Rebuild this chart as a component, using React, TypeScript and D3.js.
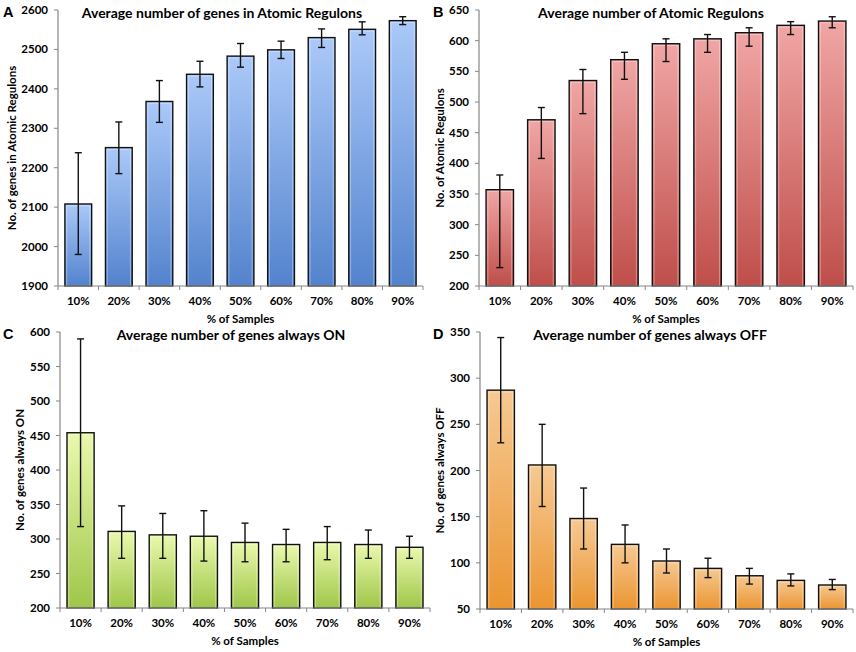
import * as d3 from "d3";

const categories = ["10%", "20%", "30%", "40%", "50%", "60%", "70%", "80%", "90%"];

// A: genes in atomic regulons
const genesMean = [2108, 2251, 2368, 2437, 2483, 2499, 2530, 2551, 2573];
const genesHigh = [2238, 2316, 2421, 2470, 2515, 2521, 2552, 2570, 2583];
const genesLow = [1980, 2185, 2315, 2405, 2455, 2477, 2505, 2537, 2563];
const genesTicks = [1900, 2000, 2100, 2200, 2300, 2400, 2500, 2600];

// B: atomic regulons
const regulonsMean = [357, 471, 535, 569, 595, 603, 613, 625, 632];
const regulonsHigh = [381, 491, 553, 581, 603, 610, 621, 631, 639];
const regulonsLow = [230, 408, 481, 537, 566, 581, 591, 610, 621];
const regulonsTicks = [200, 250, 300, 350, 400, 450, 500, 550, 600, 650];

// C: genes always ON
const onMean = [454, 311, 306, 304, 295, 292, 295, 292, 288];
const onHigh = [590, 348, 337, 341, 323, 314, 318, 313, 304];
const onLow = [318, 272, 272, 268, 267, 267, 270, 272, 272];
const onTicks = [200, 250, 300, 350, 400, 450, 500, 550, 600];

// D: genes always OFF
const offMean = [287, 206, 148, 120, 102, 94, 86, 81, 76];
const offHigh = [344, 250, 181, 141, 115, 105, 94, 88, 82];
const offLow = [230, 161, 115, 100, 89, 84, 77, 75, 71];
const offTicks = [50, 100, 150, 200, 250, 300, 350];

const FONT = "Lato, 'Open Sans', sans-serif";
const AXIS = "#868686";

interface PanelProps {
  id: string;
  letter: string;
  title: string;
  yLabel: string;
  mean: number[];
  high: number[];
  low: number[];
  ticks: number[];
  colors: [string, string];
  left: number;
  top: number;
  right: number;
  bottom: number;
  titleX: number;
  letterX: number;
  yLabelX: number;
}

function Panel(p: PanelProps) {
  const x = d3.scaleBand<string>().domain(categories).range([p.left, p.right]).paddingInner(0.34).paddingOuter(0.17);
  const y = d3.scaleLinear().domain([p.ticks[0], p.ticks[p.ticks.length - 1]]).range([p.bottom, p.top]);
  const step = x.step();
  const gradId = `grad-${p.id}`;
  const bw = x.bandwidth();
  const cap = 3.5;

  return (
    <g fontFamily={FONT}>
      <defs>
        {/* Excel-style fill: each bar runs light at its own top to dark at its base */}
        <linearGradient id={gradId} x1="0" y1="0" x2="0" y2="1">
          <stop offset="0" stopColor={p.colors[0]} />
          <stop offset="1" stopColor={p.colors[1]} />
        </linearGradient>
      </defs>
      <text x={p.letterX} y={p.top + 7} fontFamily="Arial, 'Liberation Sans', sans-serif" fontWeight="bold" fontSize={14.5}>
        {p.letter}
      </text>
      <text x={p.titleX} y={p.top + 8} textAnchor="middle" fontWeight="bold" fontSize={14}>
        {p.title}
      </text>
      {/* y axis */}
      <line x1={p.left} x2={p.left} y1={p.top} y2={p.bottom} stroke={AXIS} strokeWidth={1.2} />
      {p.ticks.map((t) => (
        <g key={t}>
          <line x1={p.left - 4} x2={p.left} y1={y(t)} y2={y(t)} stroke={AXIS} strokeWidth={1} />
          <text x={p.left - 10} y={y(t)} dy="0.35em" textAnchor="end" fontWeight="bold" fontSize={11.5}>
            {t}
          </text>
        </g>
      ))}
      <text
        transform={`translate(${p.yLabelX},${(p.top + p.bottom) / 2}) rotate(-90)`}
        textAnchor="middle"
        dy="0.35em"
        fontWeight="bold"
        fontSize={11.5}
      >
        {p.yLabel}
      </text>
      {/* bars with error bars */}
      {categories.map((c, i) => {
        const bx = x(c)!;
        const cx = bx + bw / 2;
        const top = y(p.mean[i]);
        return (
          <g key={c}>
            <rect x={bx} y={top} width={bw} height={p.bottom - top} fill={`url(#${gradId})`} stroke="#111" strokeWidth={1.4} />
            <rect x={bx + 1.8} y={top + 1.8} width={bw - 3.6} height={p.bottom - top - 1.8} fill="none" stroke="#fff" strokeOpacity={0.35} strokeWidth={1} />
            <line x1={cx} x2={cx} y1={y(p.high[i])} y2={y(p.low[i])} stroke="#111" strokeWidth={1.4} />
            <line x1={cx - cap} x2={cx + cap} y1={y(p.high[i])} y2={y(p.high[i])} stroke="#111" strokeWidth={1.4} />
            <line x1={cx - cap} x2={cx + cap} y1={y(p.low[i])} y2={y(p.low[i])} stroke="#111" strokeWidth={1.4} />
          </g>
        );
      })}
      {/* x axis */}
      <line x1={p.left} x2={p.right} y1={p.bottom} y2={p.bottom} stroke={AXIS} strokeWidth={1.2} />
      {d3.range(categories.length + 1).map((k) => (
        <line key={k} x1={p.left + k * step} x2={p.left + k * step} y1={p.bottom} y2={p.bottom + 4} stroke={AXIS} strokeWidth={1} />
      ))}
      {categories.map((c) => (
        <text key={c} x={x(c)! + bw / 2} y={p.bottom + 19} textAnchor="middle" fontWeight="bold" fontSize={11.5}>
          {c}
        </text>
      ))}
      <text x={(p.left + p.right) / 2} y={p.bottom + 37} textAnchor="middle" fontWeight="bold" fontSize={11.5}>
        % of Samples
      </text>
    </g>
  );
}

export default function App() {
  return (
    <svg width={856} height={652} style={{ position: "absolute", left: 0, top: 0, background: "#fff" }}>
      <Panel id="a" letter="A" title="Average number of genes in Atomic Regulons" yLabel="No. of genes in Atomic Regulons"
        mean={genesMean} high={genesHigh} low={genesLow} ticks={genesTicks} colors={["#abc9f9", "#5383cd"]}
        left={58} top={10} right={423} bottom={286} titleX={222} letterX={3} yLabelX={12} />
      <Panel id="b" letter="B" title="Average number of Atomic Regulons" yLabel="No. of Atomic Regulons"
        mean={regulonsMean} high={regulonsHigh} low={regulonsLow} ticks={regulonsTicks} colors={["#f0a6a5", "#bf4e4a"]}
        left={479} top={10} right={853} bottom={286} titleX={651} letterX={433} yLabelX={440} />
      <Panel id="c" letter="C" title="Average number of genes always ON" yLabel="No. of genes always ON"
        mean={onMean} high={onHigh} low={onLow} ticks={onTicks} colors={["#eaf9ad", "#9fc649"]}
        left={60} top={332} right={430} bottom={608} titleX={231} letterX={3} yLabelX={20} />
      <Panel id="d" letter="D" title="Average number of genes always OFF" yLabel="No. of genes always OFF"
        mean={offMean} high={offHigh} low={offLow} ticks={offTicks} colors={["#f6c993", "#eb9530"]}
        left={480} top={332} right={853} bottom={609} titleX={650} letterX={433} yLabelX={440} />
    </svg>
  );
}
